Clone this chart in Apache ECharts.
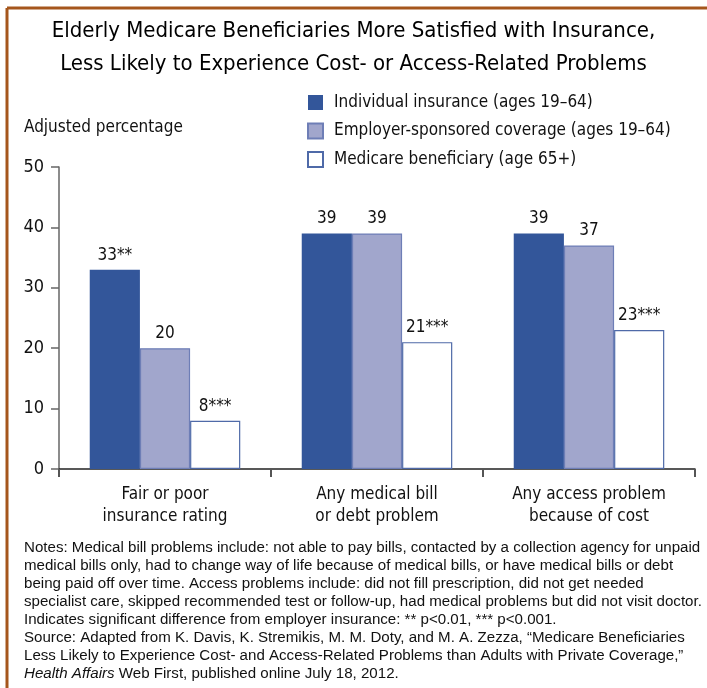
<!DOCTYPE html>
<html>
<head>
<meta charset="utf-8">
<style>
  html, body { margin: 0; padding: 0; background: #fff; }
  #chart { width: 707px; height: 688px; }
</style>
<script src="https://cdn.jsdelivr.net/npm/echarts@6/dist/echarts.min.js"></script>
</head>
<body>
<div id="chart"></div>
<script>
const titleLines = [
  'Elderly Medicare Beneficiaries More Satisfied with Insurance,',
  'Less Likely to Experience Cost- or Access-Related Problems'
];
const categories = [
  'Fair or poor\ninsurance rating',
  'Any medical bill\nor debt problem',
  'Any access problem\nbecause of cost'
];
const seriesNames = [
  'Individual insurance (ages 19\u201364)',
  'Employer-sponsored coverage (ages 19\u201364)',
  'Medicare beneficiary (age 65+)'
];
const individualValues = [33, 39, 39];
const employerValues = [20, 39, 37];
const medicareValues = [8, 21, 23];
const individualMarks = ['**', '', ''];
const employerMarks = ['', '', ''];
const medicareMarks = ['***', '***', '***'];
const yTicks = [0, 10, 20, 30, 40, 50];
const yAxisTitle = 'Adjusted percentage';
const noteLines = [
  'Notes: Medical bill problems include: not able to pay bills, contacted by a collection agency for unpaid',
  'medical bills only, had to change way of life because of medical bills, or have medical bills or debt',
  'being paid off over time. Access problems include: did not fill prescription, did not get needed',
  'specialist care, skipped recommended test or follow-up, had medical problems but did not visit doctor.',
  'Indicates significant difference from employer insurance: ** p<0.01, *** p<0.001.',
  'Source: Adapted from K. Davis, K. Stremikis, M. M. Doty, and M. A. Zezza, \u201cMedicare Beneficiaries',
  'Less Likely to Experience Cost- and Access-Related Problems than Adults with Private Coverage,\u201d',
  '{i|Health Affairs} Web First, published online July 18, 2012.'
];

const narrow = '"Liberation Sans Narrow", "DejaVu Sans Condensed", sans-serif';
const colors = ['#33569A', '#A1A6CC', '#FFFFFF'];
const borders = ['#33569A', '#6E7EB6', '#4F6AA8'];
const valueSets = [individualValues, employerValues, medicareValues];
const markSets = [individualMarks, employerMarks, medicareMarks];

const chart = echarts.init(document.getElementById('chart'), null, { renderer: 'canvas' });

const noteFont = '"Liberation Sans", Arial, sans-serif';
const graphics = [
  { type: 'line', shape: { x1: 7, y1: 8, x2: 707, y2: 8 }, style: { stroke: '#A5561C', lineWidth: 3 } },
  { type: 'line', shape: { x1: 7, y1: 8, x2: 7, y2: 688 }, style: { stroke: '#A5561C', lineWidth: 3 } },
  { type: 'text', left: 24, top: 119, style: { text: yAxisTitle, font: '17px ' + narrow, fill: '#111' } }
];
noteLines.forEach((line, i) => {
  graphics.push({
    type: 'text', left: 24, top: 540 + i * 18,
    style: {
      text: line, fill: '#111', fontSize: 15.1, fontFamily: noteFont,
      rich: { i: { fontStyle: 'italic', fontSize: 15.1, fontFamily: noteFont, fill: '#111' } }
    }
  });
});

chart.setOption({
  animation: false,
  backgroundColor: '#fff',
  title: {
    text: titleLines.join('\n'),
    left: 'center', top: 10,
    textStyle: { fontFamily: narrow, fontSize: 22, fontWeight: 'normal', lineHeight: 33, color: '#000' }
  },
  legend: {
    orient: 'vertical', left: 302, top: 89,
    icon: 'rect',
    itemWidth: 15, itemHeight: 15, itemGap: 11.5,
    textStyle: { fontFamily: narrow, fontSize: 17, color: '#111', padding: [0, 0, 0, 6] },
    data: seriesNames
  },
  grid: { left: 59, right: 12, top: 167, bottom: 219, containLabel: false },
  xAxis: {
    type: 'category', data: categories,
    axisLine: { lineStyle: { color: '#222', width: 1.5 } },
    axisTick: { show: true, length: 8, lineStyle: { color: '#555', width: 2 } },
    axisLabel: { fontFamily: narrow, fontSize: 17, lineHeight: 22, color: '#111', margin: 15 }
  },
  yAxis: {
    type: 'value', min: yTicks[0], max: yTicks[yTicks.length - 1], interval: 10,
    axisLine: { show: true, lineStyle: { color: '#666', width: 1.5 } },
    axisTick: { show: true, inside: false, length: 8, lineStyle: { color: '#666', width: 1.5 } },
    splitLine: { show: false },
    axisLabel: { fontFamily: narrow, fontSize: 18, color: '#111', margin: 15 }
  },
  series: seriesNames.map((name, s) => ({
    name, type: 'bar',
    data: valueSets[s],
    barGap: '0%', barCategoryGap: '29%',
    itemStyle: { color: colors[s], borderColor: borders[s], borderWidth: s === 0 ? 0 : 1.2 },
    label: {
      show: true, position: 'top', distance: 6,
      fontFamily: narrow, fontSize: 17, color: '#111',
      formatter: p => p.value + markSets[s][p.dataIndex]
    }
  })),
  graphic: graphics
});
</script>
</body>
</html>
